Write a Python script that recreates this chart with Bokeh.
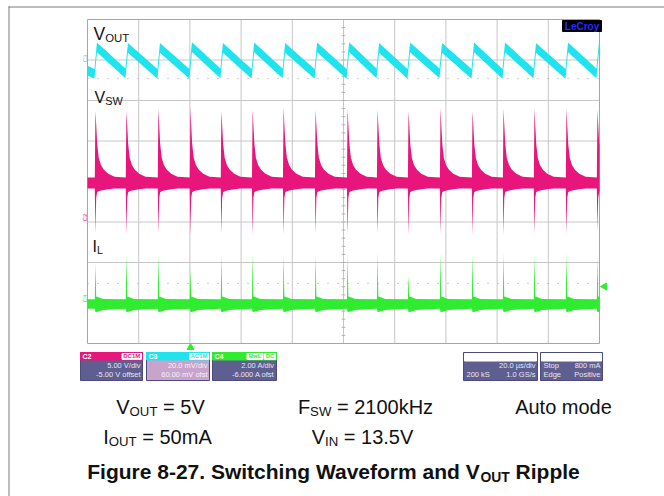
import numpy as np
from bokeh.plotting import figure
from bokeh.models import Range1d, Label
from bokeh.core.properties import value
from bokeh.embed import file_html
from bokeh.resources import INLINE

# ------------------------------------------------------------------ data
T_PER_DIV = 20.0            # 20.0 us/div
N_XDIV, N_YDIV = 10, 8
T_END = T_PER_DIV * N_XDIV  # 200 us on screen

# switching events (us)
sw_times = [3.1, 15.2, 27.7, 40.2, 52.3, 64.5, 76.6, 89.1, 101.6,
            113.3, 125.4, 137.9, 150.4, 162.5, 174.6, 187.1, 199.2]

# V_OUT (C3, screen divisions): trough before each event and peak after it
vout_start = 2.74
vout_trough = [2.66, 2.67, 2.66, 2.66, 2.67, 2.66, 2.67, 2.66, 2.66,
               2.67, 2.66, 2.67, 2.66, 2.66, 2.67, 2.66, 2.67]
vout_peak = [3.31, 3.30, 3.30, 3.32, 3.30, 3.31, 3.30, 3.31, 3.32,
             3.30, 3.31, 3.30, 3.31, 3.31, 3.30, 3.31, 3.33]
vout_noise = 0.12

# V_SW (C2, divisions): baseline band, spike tops and undershoots
vsw_base_hi, vsw_base_lo = 0.10, -0.17
vsw_peak = [1.75, 1.74, 1.80, 1.84, 1.74, 1.77, 1.84, 1.77, 1.80,
            1.77, 1.74, 1.82, 1.75, 1.80, 1.80, 1.80, 1.77]
vsw_neg = [-1.30, -1.33, -1.31, -1.33, -1.30, -1.32, -1.33, -1.31, -1.32,
           -1.30, -1.33, -1.31, -1.32, -1.33, -1.30, -1.31, -1.22]
# ringing tail after each spike: offset (us), upper and lower envelope (div)
vsw_tail_t = [0.3, 0.7, 1.3, 2.2, 3.3, 5.0, 7.5]
vsw_tail_hi = [1.40, 0.92, 0.58, 0.40, 0.29, 0.19, 0.12]
vsw_tail_lo = [-0.40, -0.26, -0.24, -0.22, -0.21, -0.19, -0.17]

# I_L (C4, divisions)
il_base_hi, il_base_lo = -2.91, -3.14
il_peak = [-2.02, -1.79, -1.79, -2.12, -1.79, -1.79, -1.79, -1.79, -1.79,
           -1.76, -2.32, -1.76, -1.79, -1.76, -1.79, -1.76, -1.84]
il_dip = -3.22
il_tail_t = [0.3, 1.2, 3.0]
il_tail_hi = [-2.84, -2.86, -2.90]
il_tail_lo = [-3.22, -3.21, -3.17]

trig_level = -2.52      # dotted trigger level line (div)
c3_ref_level = 2.54     # dotted reference line (div)

# ------------------------------------------------------------------ layout
W, H = 664, 496
OFF = 0
GX0, GX1, GY0, GY1 = 87, 599, 19, 343   # graticule in picture pixels
sx = (GX1 - GX0) / T_END
sy = (GY1 - GY0) / N_YDIV

p = figure(width=W, height=H, output_backend="svg", toolbar_location=None,
           x_range=Range1d(-(GX0 - OFF) / sx, T_END + (OFF + W - GX1) / sx),
           y_range=Range1d(-N_YDIV / 2 - (OFF + H - GY1) / sy, N_YDIV / 2 + (GY0 - OFF) / sy),
           x_axis_location=None, y_axis_location=None, min_border=0)
p.grid.visible = False
p.outline_line_color = None
p.background_fill_color = "white"
p.border_fill_color = "white"
p.extra_x_ranges = {"px": Range1d(OFF, OFF + W)}
p.extra_y_ranges = {"px": Range1d(OFF + H, OFF)}
PX = dict(x_range_name="px", y_range_name="px")

FONT = "Liberation Sans"
CYAN, MAGENTA, GREEN = "#1fe4ee", "#e8167c", "#30ec30"
SLATE = "#5e5e90"
BASE_SHIFT = 0.38   # empirical baseline correction (fraction of font size)

# page border (left / top)
p.segment(x0=[8.5, 8], y0=[6, 6.5], x1=[8.5, W], y1=[H, 6.5],
          line_color="#7a7a7a", line_width=1, **PX)

# ---------------------------------------------------------------- graticule
half_y = N_YDIV / 2
gxs = [i * T_PER_DIV for i in range(1, N_XDIV)]
p.segment(x0=gxs, y0=[-half_y] * len(gxs), x1=gxs, y1=[half_y] * len(gxs),
          line_color="#c6c6c6", line_width=1)
gys = [j - half_y for j in range(1, N_YDIV)]
p.segment(x0=[0] * len(gys), y0=gys, x1=[T_END] * len(gys), y1=gys,
          line_color="#c6c6c6", line_width=1)
# minor ticks on the centre lines
mt_y = np.arange(-half_y, half_y + 1e-6, 0.2)
p.segment(x0=T_END / 2 - 0.7, y0=mt_y, x1=T_END / 2 + 0.7, y1=mt_y, line_color="#b0b0b0")
mt_x = np.arange(0, T_END + 1e-6, T_PER_DIV / 5)
p.segment(x0=mt_x, y0=-0.05, x1=mt_x, y1=0.05, line_color="#b0b0b0")
# dotted level lines
for lv in (c3_ref_level, trig_level):
    p.line([0, T_END], [lv, lv], line_color="#9c9c9c", line_dash="1 9", line_width=1)
# outer frame
p.quad(left=0, right=T_END, bottom=-half_y, top=half_y, fill_color=None,
       line_color="#a6a6a6", line_width=1)


# ------------------------------------------------------------------ traces
def envelope(times, tops, bottoms, base_hi, base_lo, tail_t, tail_hi, tail_lo, lead=0.25):
    xs, hi, lo = [0.0], [base_hi], [base_lo]
    for t, top, bot in zip(times, tops, bottoms):
        pts = [(t - lead, base_hi, base_lo), (t, top, bot)]
        pts += [(t + o, a, b) for o, a, b in zip(tail_t, tail_hi, tail_lo)]
        for x, a, b in pts:
            if x <= T_END:
                xs.append(x); hi.append(a); lo.append(b)
    if xs[-1] < T_END:
        xs.append(T_END); hi.append(hi[-1]); lo.append(lo[-1])
    return xs, hi, lo


# V_OUT sawtooth
vx, vc = [0.0], [vout_start]
for t, tr, pk in zip(sw_times, vout_trough, vout_peak):
    for x, v in ((t - 0.4, tr), (t + 0.6, pk)):
        if x <= T_END:
            vx.append(x); vc.append(v)
vc = np.array(vc)
p.varea(x=vx, y1=vc - vout_noise, y2=vc + vout_noise, fill_color=CYAN)

# V_SW
sx_, shi, slo = envelope(sw_times, vsw_peak, vsw_neg, vsw_base_hi, vsw_base_lo,
                         vsw_tail_t, vsw_tail_hi, vsw_tail_lo)
p.varea(x=sx_, y1=slo, y2=shi, fill_color=MAGENTA)

# I_L
ix, ihi, ilo = envelope(sw_times, il_peak, [il_dip] * len(sw_times), il_base_hi, il_base_lo,
                        il_tail_t, il_tail_hi, il_tail_lo)
p.varea(x=ix, y1=ilo, y2=ihi, fill_color=GREEN)

# ------------------------------------------------------------------ text helpers
REG = {' ': 278, '=': 584, '.': 278, '-': 333, 'A': 667, 'F': 611, 'H': 722, 'I': 278, 'L': 556,
       'N': 722, 'O': 778, 'S': 667, 'T': 611, 'U': 722, 'V': 667, 'W': 944, 'a': 556, 'd': 556,
       'e': 556, 'k': 500, 'm': 833, 'o': 556, 't': 278, 'u': 556, 'z': 500}
BOLD = {' ': 278, '-': 333, '.': 278, 'F': 611, 'O': 778, 'R': 722, 'S': 667, 'T': 611, 'U': 722,
        'V': 667, 'W': 944, 'a': 556, 'c': 556, 'd': 611, 'e': 556, 'f': 333, 'g': 611, 'h': 611,
        'i': 278, 'l': 278, 'm': 889, 'n': 611, 'o': 611, 'p': 611, 'r': 389, 't': 333, 'u': 611,
        'v': 556, 'w': 778}


def tw(s, size, bold=False):
    tab = BOLD if bold else REG
    return sum(tab.get(c, 556) for c in s) * size / 1000.0


def rich(parts, x, y, size, bold=False, align="center", color="#111111", sub_scale=0.66):
    pieces = []
    for s, sub in parts:
        fs = size * sub_scale if sub else size
        lead = len(s) - len(s.lstrip(' '))
        pieces.append((s.strip(' '), sub, fs, tw(' ' * lead, fs, bold), tw(s.strip(' '), fs, bold)))
    total = sum(a + w for _, _, _, a, w in pieces)
    cx = x - total / 2 if align == "center" else x
    y0 = y - BASE_SHIFT * size
    for s, sub, fs, adv, w in pieces:
        cx += adv
        p.add_layout(Label(x=cx, y=y0 + (0.24 * size if sub else 0), text=s, text_font=FONT,
                           text_font_size=f"{fs:.1f}px", text_font_style="bold" if bold else "normal",
                           text_color=color, text_align="left", text_baseline="alphabetic", **PX))
        cx += w


def lab(x, y, s, size, color, align="left", bold=False, angle=0.0, baseline="alphabetic"):
    if baseline == "alphabetic":
        y = y - BASE_SHIFT * size
    p.add_layout(Label(x=x, y=y, text=s, text_font=FONT, text_font_size=f"{size}px",
                       text_color=color, text_align=align, text_baseline=baseline, angle=angle,
                       text_font_style="bold" if bold else "normal", **PX))


# trace names
rich([("V", 0), ("OUT", 1)], 93, 40, 17.5, align="left", sub_scale=0.65)
rich([("V", 0), ("SW", 1)], 94, 103, 16, align="left", sub_scale=0.68)
rich([("I", 0), ("L", 1)], 92, 252, 16, align="left", sub_scale=0.66)

# channel ground markers at the left edge
lab(84, 58, "C3", 6, CYAN, align="center", angle=np.pi / 2, baseline="middle")
lab(84, 217, "C2", 6, MAGENTA, align="center", angle=np.pi / 2, baseline="middle")
lab(84, 298, "C4", 6, GREEN, align="center", angle=np.pi / 2, baseline="middle")

# trigger markers
p.scatter(x=[190], y=[347], marker="triangle", size=7, fill_color=GREEN, line_color=GREEN, **PX)
p.scatter(x=[604], y=[286], marker="triangle", size=7, angle=np.pi / 2,
          fill_color=GREEN, line_color=GREEN, **PX)

# LeCroy badge
p.quad(left=562, right=601, top=20, bottom=31, fill_color="black", line_color="black", **PX)
lab(581.5, 29.5, "LeCroy", 10, "#2a2aff", align="center", bold=True)

# ------------------------------------------------------------------ info boxes
chan_boxes = [
    # left, right, header colour, body colour, name, badges, line1, line2, text colour
    (80, 142, MAGENTA, SLATE, "C2", [(121.5, 141, "DC1M")], "5.00 V/div", "-5.00 V offset", "#e6e6f2"),
    (146, 209, CYAN, "#c8a4cc", "C3", [(189, 208, "AC1M")], "20.0 mV/div", "60.00 mV ofst", "#f6f0f8"),
    (212, 276, GREEN, SLATE, "C4", [(246.5, 262.5, "BwL"), (264, 275, "DC")], "2.00 A/div", "-6.000 A ofst", "#e6e6f2"),
]
for l, r, hc, bc, name, badges, t1, t2, tc in chan_boxes:
    p.quad(left=l, right=r, top=352, bottom=380, fill_color=bc, line_color="#4c4c7c", **PX)
    p.quad(left=l, right=r, top=352, bottom=359.5, fill_color=hc, line_color=hc, **PX)
    lab(l + 2, 358.5, name, 7, "white", bold=True)
    for bl, br, bt in badges:
        p.quad(left=bl, right=br, top=353, bottom=358.8, fill_color="white", line_color="white", **PX)
        lab((bl + br) / 2, 358.2, bt, 6, hc, align="center", bold=True)
    lab(r - 2, 368, t1, 7.5, tc, align="right")
    lab(r - 2, 377, t2, 7.5, tc, align="right")

info_boxes = [
    (463, 537, [("20.0 \u00b5s/div", "right", 368), ("200 kS", "left", 377), ("1.0 GS/s", "right", 377)]),
    (540, 602, [("Stop", "left", 368), ("800 mA", "right", 368), ("Edge", "left", 377), ("Positive", "right", 377)]),
]
for l, r, texts in info_boxes:
    p.quad(left=l, right=r, top=352, bottom=380, fill_color=SLATE, line_color="#4c4c7c", **PX)
    p.quad(left=l + 1, right=r - 1, top=353, bottom=360.5, fill_color="white", line_color="white", **PX)
    for s, al, y in texts:
        lab(r - 2 if al == "right" else l + 3, y, s, 7.5, "#e6e6f2", align=al)

# ------------------------------------------------------------------ caption
rich([("V", 0), ("OUT", 1), (" = 5V", 0)], 160, 414, 20)
rich([("F", 0), ("SW", 1), (" = 2100kHz", 0)], 365, 414, 20)
rich([("Auto mode", 0)], 563, 414, 20)
rich([("I", 0), ("OUT", 1), (" = 50mA", 0)], 157, 444, 20)
rich([("V", 0), ("IN", 1), (" = 13.5V", 0)], 362, 444, 20)
rich([("Figure 8-27. Switching Waveform and V", 0), ("OUT", 1), (" Ripple", 0)], 333, 479, 21, bold=True)

open("out.html", "w").write(file_html(p, INLINE))
